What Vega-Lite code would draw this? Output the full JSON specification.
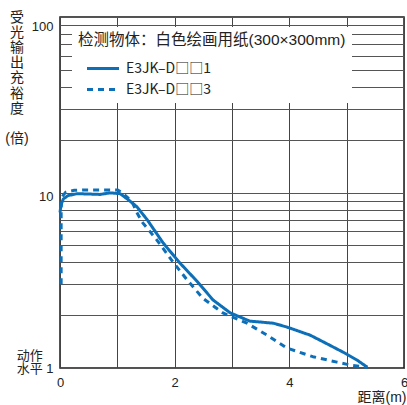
{
  "$schema": "https://vega.github.io/schema/vega-lite/v6.json",
  "width": 344,
  "height": 351,
  "autosize": {"type": "none"},
  "padding": {"left": 60, "top": 17, "right": 3, "bottom": 37},
  "background": "white",
  "config": {
    "view": {"stroke": "#1a1a1a", "strokeWidth": 1.5},
    "font": "Liberation Sans, Noto Sans CJK SC, sans-serif"
  },
  "title": {
    "text": ["受", "光", "输", "出", "充", "裕", "度", "\u200b", "(倍)"],
    "orient": "none",
    "anchor": "start",
    "frame": "group",
    "align": "center",
    "baseline": "top",
    "offset": 0,
    "dx": -43,
    "dy": -6,
    "lineHeight": 15.1,
    "fontSize": 14,
    "fontWeight": "normal",
    "color": "#222"
  },
  "data": {
    "values": [
      {"s": "E3JK–D□□1", "i": 1, "d": 0.0, "v": 7.7},
      {"s": "E3JK–D□□1", "i": 2, "d": 0.02, "v": 8.6},
      {"s": "E3JK–D□□1", "i": 3, "d": 0.06, "v": 9.2},
      {"s": "E3JK–D□□1", "i": 4, "d": 0.14, "v": 9.6},
      {"s": "E3JK–D□□1", "i": 5, "d": 0.3, "v": 9.85},
      {"s": "E3JK–D□□1", "i": 6, "d": 0.5, "v": 9.8},
      {"s": "E3JK–D□□1", "i": 7, "d": 0.7, "v": 9.75},
      {"s": "E3JK–D□□1", "i": 8, "d": 0.87, "v": 9.95},
      {"s": "E3JK–D□□1", "i": 9, "d": 1.05, "v": 9.85},
      {"s": "E3JK–D□□1", "i": 10, "d": 1.19, "v": 9.1},
      {"s": "E3JK–D□□1", "i": 11, "d": 1.34, "v": 8.3},
      {"s": "E3JK–D□□1", "i": 12, "d": 1.52, "v": 7.0},
      {"s": "E3JK–D□□1", "i": 13, "d": 1.8, "v": 5.15},
      {"s": "E3JK–D□□1", "i": 14, "d": 2.09, "v": 3.97},
      {"s": "E3JK–D□□1", "i": 15, "d": 2.39, "v": 3.12},
      {"s": "E3JK–D□□1", "i": 16, "d": 2.67, "v": 2.44},
      {"s": "E3JK–D□□1", "i": 17, "d": 2.97, "v": 2.06},
      {"s": "E3JK–D□□1", "i": 18, "d": 3.31, "v": 1.85},
      {"s": "E3JK–D□□1", "i": 19, "d": 3.72, "v": 1.8},
      {"s": "E3JK–D□□1", "i": 20, "d": 3.96, "v": 1.71},
      {"s": "E3JK–D□□1", "i": 21, "d": 4.36, "v": 1.54},
      {"s": "E3JK–D□□1", "i": 22, "d": 4.59, "v": 1.41},
      {"s": "E3JK–D□□1", "i": 23, "d": 4.94, "v": 1.23},
      {"s": "E3JK–D□□1", "i": 24, "d": 5.18, "v": 1.11},
      {"s": "E3JK–D□□1", "i": 25, "d": 5.36, "v": 1.01},
      {"s": "E3JK–D□□3", "i": 1, "d": 0.02, "v": 3.0},
      {"s": "E3JK–D□□3", "i": 2, "d": 0.02, "v": 8.2},
      {"s": "E3JK–D□□3", "i": 3, "d": 0.04, "v": 9.5},
      {"s": "E3JK–D□□3", "i": 4, "d": 0.1, "v": 10.05},
      {"s": "E3JK–D□□3", "i": 5, "d": 0.25, "v": 10.3},
      {"s": "E3JK–D□□3", "i": 6, "d": 0.4, "v": 10.35},
      {"s": "E3JK–D□□3", "i": 7, "d": 1.0, "v": 10.35},
      {"s": "E3JK–D□□3", "i": 8, "d": 1.1, "v": 9.9},
      {"s": "E3JK–D□□3", "i": 9, "d": 1.26, "v": 8.8},
      {"s": "E3JK–D□□3", "i": 10, "d": 1.34, "v": 7.7},
      {"s": "E3JK–D□□3", "i": 11, "d": 1.43, "v": 6.8},
      {"s": "E3JK–D□□3", "i": 12, "d": 1.69, "v": 5.36},
      {"s": "E3JK–D□□3", "i": 13, "d": 1.97, "v": 4.02},
      {"s": "E3JK–D□□3", "i": 14, "d": 2.22, "v": 3.17},
      {"s": "E3JK–D□□3", "i": 15, "d": 2.49, "v": 2.5},
      {"s": "E3JK–D□□3", "i": 16, "d": 2.84, "v": 2.06},
      {"s": "E3JK–D□□3", "i": 17, "d": 3.26, "v": 1.8},
      {"s": "E3JK–D□□3", "i": 18, "d": 3.61, "v": 1.54},
      {"s": "E3JK–D□□3", "i": 19, "d": 3.96, "v": 1.3},
      {"s": "E3JK–D□□3", "i": 20, "d": 4.41, "v": 1.16},
      {"s": "E3JK–D□□3", "i": 21, "d": 4.83, "v": 1.08},
      {"s": "E3JK–D□□3", "i": 22, "d": 5.06, "v": 1.04},
      {"s": "E3JK–D□□3", "i": 23, "d": 5.36, "v": 1.01}
    ]
  },
  "mark": {"type": "line", "strokeWidth": 3, "color": "#0d6fb8", "interpolate": "linear", "strokeJoin": "round"},
  "encoding": {
    "x": {
      "field": "d",
      "type": "quantitative",
      "scale": {"domain": [0, 6], "nice": false, "zero": false},
      "axis": {
        "title": "距离(m)",
        "values": [0, 1, 2, 3, 4, 5, 6],
        "labelExpr": "datum.value % 2 == 0 ? datum.label : ''",
        "ticks": false,
        "tickSize": 0,
        "domain": false,
        "grid": true,
        "gridColor": "#444",
        "gridWidth": 1,
        "labelFontSize": 13,
        "labelColor": "#222",
        "labelPadding": 8,
        "labelFlush": false,
        "labelOverlap": false,
        "titleX": 346,
        "titleY": 29,
        "titleAlign": "right",
        "titleBaseline": "middle",
        "titleFontSize": 14,
        "titleFontWeight": "normal",
        "titleColor": "#222"
      }
    },
    "y": {
      "field": "v",
      "type": "quantitative",
      "scale": {"type": "log", "domain": [1, 100], "nice": false},
      "axis": {
        "title": null,
        "values": [1, 2, 3, 4, 5, 6, 7, 8, 9, 10, 20, 30, 40, 50, 60, 70, 80, 90, 100],
        "labelExpr": "datum.value == 1 ? ['动作\u00a0\u00a0\u00a0\u200b', '水平\u00a01'] : (datum.value == 10 || datum.value == 100 ? datum.label : '')",
        "labelFontSize": 13,
        "labelColor": "#222",
        "labelPadding": 7,
        "labelLineHeight": 13,
        "labelOffset": {"condition": [{"test": "datum.value == 100", "value": 9}, {"test": "datum.value == 10", "value": 4}], "value": -13},
        "labelOverlap": false,
        "labelFlush": false,
        "ticks": false,
        "tickSize": 0,
        "domain": false,
        "grid": true,
        "gridColor": "#555",
        "gridWidth": 1
      }
    },
    "strokeDash": {
      "field": "s",
      "type": "nominal",
      "scale": {"domain": ["E3JK–D□□1", "E3JK–D□□3"], "range": [[1, 0], [6, 5]]},
      "legend": {
        "title": "检测物体：白色绘画用纸(300×300mm)",
        "orient": "none",
        "legendX": 12,
        "legendY": 10,
        "fillColor": "white",
        "padding": 6,
        "zindex": 1,
        "titleFontSize": 15.5,
        "titleFontWeight": "normal",
        "titleColor": "#222",
        "titlePadding": 13,
        "titleLimit": 500,
        "labelFont": "Noto Sans CJK SC",
        "labelFontSize": 14,
        "labelColor": "#222",
        "labelLimit": 300,
        "symbolType": "M-3.2,0H3.2",
        "symbolSize": 100,
        "symbolStrokeWidth": 3,
        "symbolStrokeColor": "#0d6fb8",
        "symbolFillColor": "transparent",
        "symbolOffset": 18,
        "labelOffset": 16,
        "rowPadding": 7
      }
    },
    "order": {"field": "i", "type": "quantitative"}
  }
}
